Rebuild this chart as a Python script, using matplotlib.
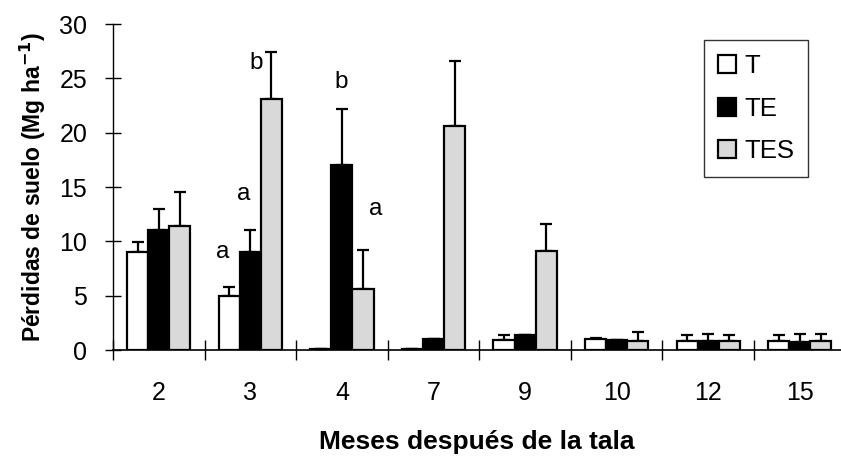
import numpy as np
import matplotlib
matplotlib.use("Agg")
import matplotlib.pyplot as plt

plt.rcParams["font.family"] = ["Liberation Sans", "DejaVu Sans"]

# --- data ---
months = ["2", "3", "4", "7", "9", "10", "12", "15"]
series_names = ["T", "TE", "TES"]

t_vals = [9.0, 5.0, 0.1, 0.1, 0.9, 1.0, 0.8, 0.8]
t_err = [0.9, 0.8, 0.0, 0.0, 0.5, 0.1, 0.6, 0.6]
te_vals = [11.0, 9.0, 17.0, 1.0, 1.4, 0.9, 0.8, 0.7]
te_err = [2.0, 2.0, 5.2, 0.0, 0.0, 0.0, 0.7, 0.8]
tes_vals = [11.4, 23.1, 5.6, 20.6, 9.1, 0.8, 0.8, 0.8]
tes_err = [3.1, 4.3, 3.6, 6.0, 2.5, 0.9, 0.6, 0.7]

# significance letters (x in category units, y in Mg/ha)
letter_text = ["a", "a", "b", "b", "a"]
letter_x = [0.70, 0.925, 1.066, 1.995, 2.365]
letter_y = [9.0, 14.4, 26.4, 24.7, 13.0]

values = [t_vals, te_vals, tes_vals]
errors = [t_err, te_err, tes_err]
colors = ["white", "black", "#d9d9d9"]

fig = plt.figure(figsize=(8.41, 4.62), dpi=100)
ax = fig.add_axes([0.1344, 0.2424, 0.8656, 0.7056])

x = np.arange(len(months))
width = 0.23
offsets = [-width, 0.0, width]

for vals, errs, col, name, off in zip(values, errors, colors, series_names, offsets):
    ax.bar(x + off, vals, width, color=col, edgecolor="black", linewidth=1.6,
           label=name, zorder=2)
    lower = np.zeros(len(vals))
    ax.errorbar(x + off, vals, yerr=[lower, errs], fmt="none", ecolor="black",
                elinewidth=1.6, capsize=4.5, capthick=1.6, zorder=1)

for txt, xx, yy in zip(letter_text, letter_x, letter_y):
    ax.text(xx, yy, txt, ha="center", va="center", fontsize=17.5)

ax.set_xlim(-0.5, 7.45)
ax.set_ylim(0, 30)
ax.set_yticks(np.arange(0, 31, 5))
ax.set_yticklabels([str(v) for v in range(0, 31, 5)], fontsize=18)
ax.set_xticks(x)
ax.set_xticklabels(months, fontsize=18)
ax.tick_params(axis="x", which="major", length=0, pad=22)
ax.set_xticks(np.arange(-0.5, 7.5, 1.0), minor=True)
ax.tick_params(axis="x", which="minor", direction="inout", length=14, width=1.0)
ax.tick_params(axis="y", direction="inout", length=11, width=1.0, pad=13)

for side in ["top", "right"]:
    ax.spines[side].set_visible(False)
ax.spines["left"].set_linewidth(1.0)
ax.spines["bottom"].set_linewidth(1.2)
ax.spines["left"].set_bounds(0, 30)

ax.set_xlabel("Meses después de la tala", fontsize=19, fontweight="bold", labelpad=18)
ax.set_ylabel("Pérdidas de suelo (Mg ha$^{\\mathbf{-1}}$)", fontsize=16.5,
              fontweight="bold", labelpad=8)

leg = ax.legend(loc="upper right", bbox_to_anchor=(0.955, 0.951), fontsize=18.5,
                frameon=True, fancybox=False, edgecolor="black",
                handlelength=0.72, handleheight=0.7, handletextpad=0.3,
                labelspacing=0.72, borderpad=0.55, borderaxespad=0)
leg.get_frame().set_linewidth(1.0)

fig.savefig("out.png", dpi=100)
